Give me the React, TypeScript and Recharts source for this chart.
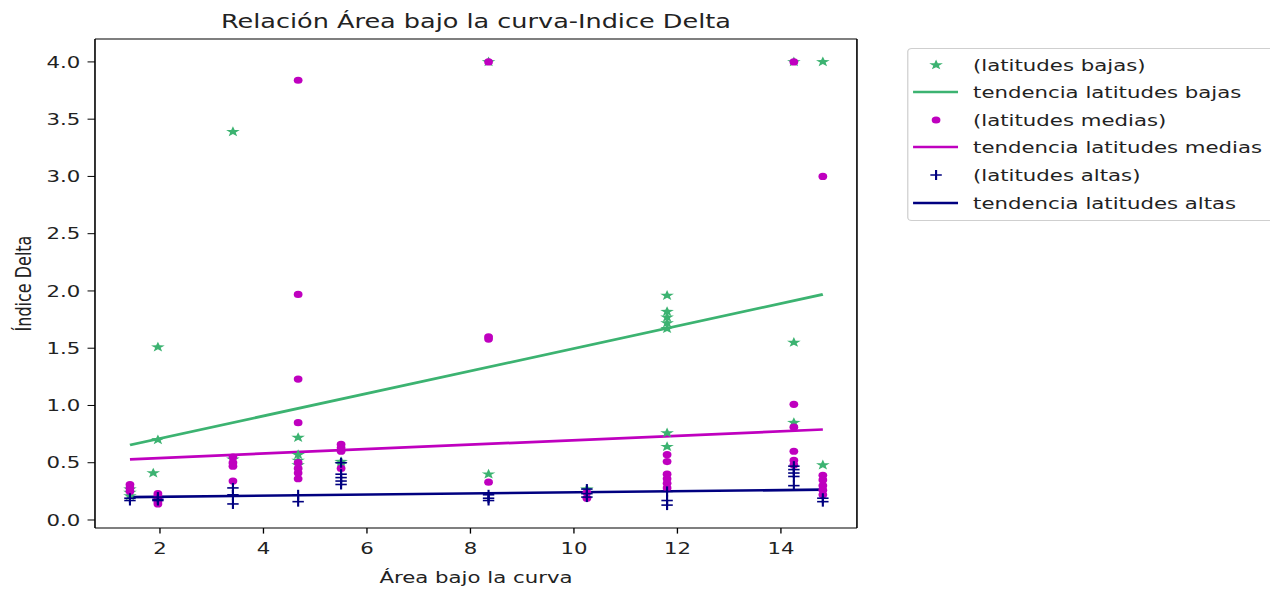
import { ComposedChart, Scatter, Line, XAxis, YAxis, Legend, ReferenceLine } from 'recharts';

// picture is stretched sideways, so draw narrow and widen
const STRETCH = 1.33;
const W = 952;
const H = 581;

const GREEN = '#3cb371';
const PINK = '#bf00bf';
const NAVY = '#000080';
const INK = '#222';

const X_DOMAIN: [number, number] = [0.744, 15.469];
const Y_DOMAIN: [number, number] = [-0.07, 4.2];
const xTicks = [2, 4, 6, 8, 10, 12, 14];
const yTicks = [0, 0.5, 1, 1.5, 2, 2.5, 3, 3.5, 4];

// [area, delta]
const bajas: [number, number][] = [
  [1.42, 0.27], [1.42, 0.24], [1.42, 0.21],
  [1.96, 1.51], [1.96, 0.7], [1.87, 0.41],
  [3.41, 3.39], [3.41, 0.53],
  [4.67, 0.72], [4.67, 0.57], [4.67, 0.52], [4.67, 0.48],
  [5.5, 0.51], [5.5, 0.49],
  [8.35, 4.0], [8.35, 0.4],
  [10.25, 0.27],
  [11.8, 1.96], [11.8, 1.82], [11.8, 1.77], [11.8, 1.72], [11.8, 1.67], [11.8, 0.76], [11.8, 0.64],
  [14.25, 4.0], [14.25, 1.55], [14.25, 0.85],
  [14.81, 4.0], [14.81, 0.48],
];

const medias: [number, number][] = [
  [1.42, 0.31], [1.42, 0.28], [1.42, 0.25],
  [1.96, 0.23], [1.96, 0.21], [1.96, 0.19], [1.96, 0.16], [1.96, 0.14],
  [3.41, 0.55], [3.41, 0.5], [3.41, 0.47], [3.41, 0.34],
  [4.67, 3.84], [4.67, 1.97], [4.67, 1.23], [4.67, 0.85], [4.67, 0.5], [4.67, 0.45], [4.67, 0.41], [4.67, 0.36],
  [5.5, 0.66], [5.5, 0.63], [5.5, 0.6], [5.5, 0.45],
  [8.35, 4.0], [8.35, 1.6], [8.35, 1.58], [8.35, 0.33],
  [10.25, 0.24], [10.25, 0.19],
  [11.8, 0.57], [11.8, 0.51], [11.8, 0.4], [11.8, 0.36], [11.8, 0.32], [11.8, 0.28],
  [14.25, 4.0], [14.25, 1.01], [14.25, 0.81], [14.25, 0.6], [14.25, 0.52], [14.25, 0.48],
  [14.81, 3.0], [14.81, 0.39], [14.81, 0.35], [14.81, 0.3], [14.81, 0.26], [14.81, 0.22],
];

const altas: [number, number][] = [
  [1.42, 0.19], [1.42, 0.17],
  [1.96, 0.2], [1.96, 0.18], [1.96, 0.17],
  [3.41, 0.28], [3.41, 0.22], [3.41, 0.14],
  [4.67, 0.22], [4.67, 0.16],
  [5.5, 0.5], [5.5, 0.4], [5.5, 0.37], [5.5, 0.34], [5.5, 0.31],
  [8.35, 0.22], [8.35, 0.19], [8.35, 0.17],
  [10.25, 0.27], [10.25, 0.23], [10.25, 0.2],
  [11.8, 0.25], [11.8, 0.17], [11.8, 0.13],
  [14.25, 0.47], [14.25, 0.44], [14.25, 0.41], [14.25, 0.38], [14.25, 0.3],
  [14.81, 0.19], [14.81, 0.16],
];

// trend lines, ends
const trendBajas: [number, number][] = [[1.42, 0.655], [14.81, 1.97]];
const trendMedias: [number, number][] = [[1.42, 0.53], [14.81, 0.79]];
const trendAltas: [number, number][] = [[1.42, 0.2], [14.81, 0.265]];

const legendItems = [
  { label: '(latitudes bajas)', color: GREEN, kind: 'star' },
  { label: 'tendencia latitudes bajas', color: GREEN, kind: 'line' },
  { label: '(latitudes medias)', color: PINK, kind: 'dot' },
  { label: 'tendencia latitudes medias', color: PINK, kind: 'line' },
  { label: '(latitudes altas)', color: NAVY, kind: 'plus' },
  { label: 'tendencia latitudes altas', color: NAVY, kind: 'line' },
];

const toPts = (arr: [number, number][]) => arr.map(([x, y]) => ({ x, y }));

function starPoints(cx: number, cy: number, ro: number, ri: number) {
  const pts: string[] = [];
  for (let i = 0; i < 10; i++) {
    const r = i % 2 === 0 ? ro : ri;
    const a = -Math.PI / 2 + (i * Math.PI) / 5;
    pts.push(`${cx + r * Math.cos(a)},${cy + r * Math.sin(a)}`);
  }
  return pts.join(' ');
}

function Marker({ kind, cx, cy, color }: { kind: string; cx: number; cy: number; color: string }) {
  if (kind === 'star') return <polygon points={starPoints(cx, cy, 5.4, 2.2)} fill={color} />;
  if (kind === 'dot') return <ellipse cx={cx} cy={cy} rx={3.3} ry={3.6} fill={color} />;
  if (kind === 'plus')
    return (
      <g stroke={color} strokeWidth={1.6}>
        <line x1={cx - 4.3} y1={cy} x2={cx + 4.3} y2={cy} />
        <line x1={cx} y1={cy - 5} x2={cx} y2={cy + 5} />
      </g>
    );
  return null;
}

const rowY = [17, 44, 72, 99, 127, 155];

function LegendBox() {
  return (
    <svg width={276} height={173}>
      <rect x={0.5} y={0.5} width={275} height={172} rx={3} fill="#fff" stroke="#cfcfcf" />
      {legendItems.map((it, i) => (
        <g key={it.label}>
          {it.kind === 'line' ? (
            <line x1={4.5} x2={38.3} y1={rowY[i]} y2={rowY[i]} stroke={it.color} strokeWidth={2.7} />
          ) : (
            <Marker kind={it.kind} cx={21.8} cy={rowY[i]} color={it.color} />
          )}
          <text x={49.6} y={rowY[i]} dominantBaseline="central" fontSize={16} fill={INK}>
            {it.label}
          </text>
        </g>
      ))}
    </svg>
  );
}

export default function App() {
  const axisTick = { fontSize: 16, fill: INK };
  const spine = { stroke: '#000', strokeWidth: 1.2 };
  return (
    <div
      style={{
        position: 'relative',
        width: W,
        height: H,
        transform: `scaleX(${STRETCH})`,
        transformOrigin: '0 0',
        fontFamily: '"DejaVu Sans", sans-serif',
      }}
    >
      <div
        style={{
          position: 'absolute',
          left: 65.4,
          width: 572.9,
          top: 2,
          textAlign: 'center',
          fontSize: 19.2,
          lineHeight: '23px',
          color: INK,
        }}
      >
        Relación Área bajo la curva-Indice Delta
      </div>
      <ComposedChart width={W} height={H} margin={{ top: 31, right: 313.7, bottom: 1, left: 5.4 }}>
        <XAxis
          dataKey="x"
          type="number"
          domain={X_DOMAIN}
          allowDataOverflow
          ticks={xTicks}
          tickSize={5.6}
          tickMargin={9.4}
          height={60}
          axisLine={spine}
          tickLine={{ stroke: '#000' }}
          tick={axisTick}
          label={{ value: 'Área bajo la curva', position: 'insideBottom', offset: 5, fontSize: 16, fill: INK }}
        />
        <YAxis
          type="number"
          domain={Y_DOMAIN}
          allowDataOverflow
          ticks={yTicks}
          tickFormatter={(v: number) => v.toFixed(1)}
          tickSize={5.6}
          tickMargin={5.5}
          width={60}
          axisLine={spine}
          tickLine={{ stroke: '#000' }}
          tick={axisTick}
          label={{
            value: 'Índice Delta',
            angle: -90,
            position: 'insideLeft',
            offset: 5.9,
            fontSize: 16,
            fill: INK,
            style: { textAnchor: 'middle' },
          }}
        />
        <ReferenceLine y={Y_DOMAIN[1]} ifOverflow="visible" stroke="#000" strokeWidth={1.2} />
        <ReferenceLine x={X_DOMAIN[1]} ifOverflow="visible" stroke="#000" strokeWidth={1.2} />
        <Legend
          layout="horizontal"
          verticalAlign="middle"
          align="center"
          wrapperStyle={{ left: 676, top: 40, width: 276, height: 173 }}
          content={() => <LegendBox />}
        />
        <Scatter
          name="(latitudes bajas)"
          data={toPts(bajas)}
          dataKey="y"
          isAnimationActive={false}
          shape={(p: any) => <Marker kind="star" cx={p.cx} cy={p.cy} color={GREEN} />}
        />
        <Line
          name="tendencia latitudes bajas"
          data={toPts(trendBajas)}
          dataKey="y"
          stroke={GREEN}
          strokeWidth={2.7}
          dot={false}
          activeDot={false}
          type="linear"
          isAnimationActive={false}
        />
        <Scatter
          name="(latitudes medias)"
          data={toPts(medias)}
          dataKey="y"
          isAnimationActive={false}
          shape={(p: any) => <Marker kind="dot" cx={p.cx} cy={p.cy} color={PINK} />}
        />
        <Line
          name="tendencia latitudes medias"
          data={toPts(trendMedias)}
          dataKey="y"
          stroke={PINK}
          strokeWidth={2.7}
          dot={false}
          activeDot={false}
          type="linear"
          isAnimationActive={false}
        />
        <Scatter
          name="(latitudes altas)"
          data={toPts(altas)}
          dataKey="y"
          isAnimationActive={false}
          shape={(p: any) => <Marker kind="plus" cx={p.cx} cy={p.cy} color={NAVY} />}
        />
        <Line
          name="tendencia latitudes altas"
          data={toPts(trendAltas)}
          dataKey="y"
          stroke={NAVY}
          strokeWidth={2.7}
          dot={false}
          activeDot={false}
          type="linear"
          isAnimationActive={false}
        />
      </ComposedChart>
    </div>
  );
}
